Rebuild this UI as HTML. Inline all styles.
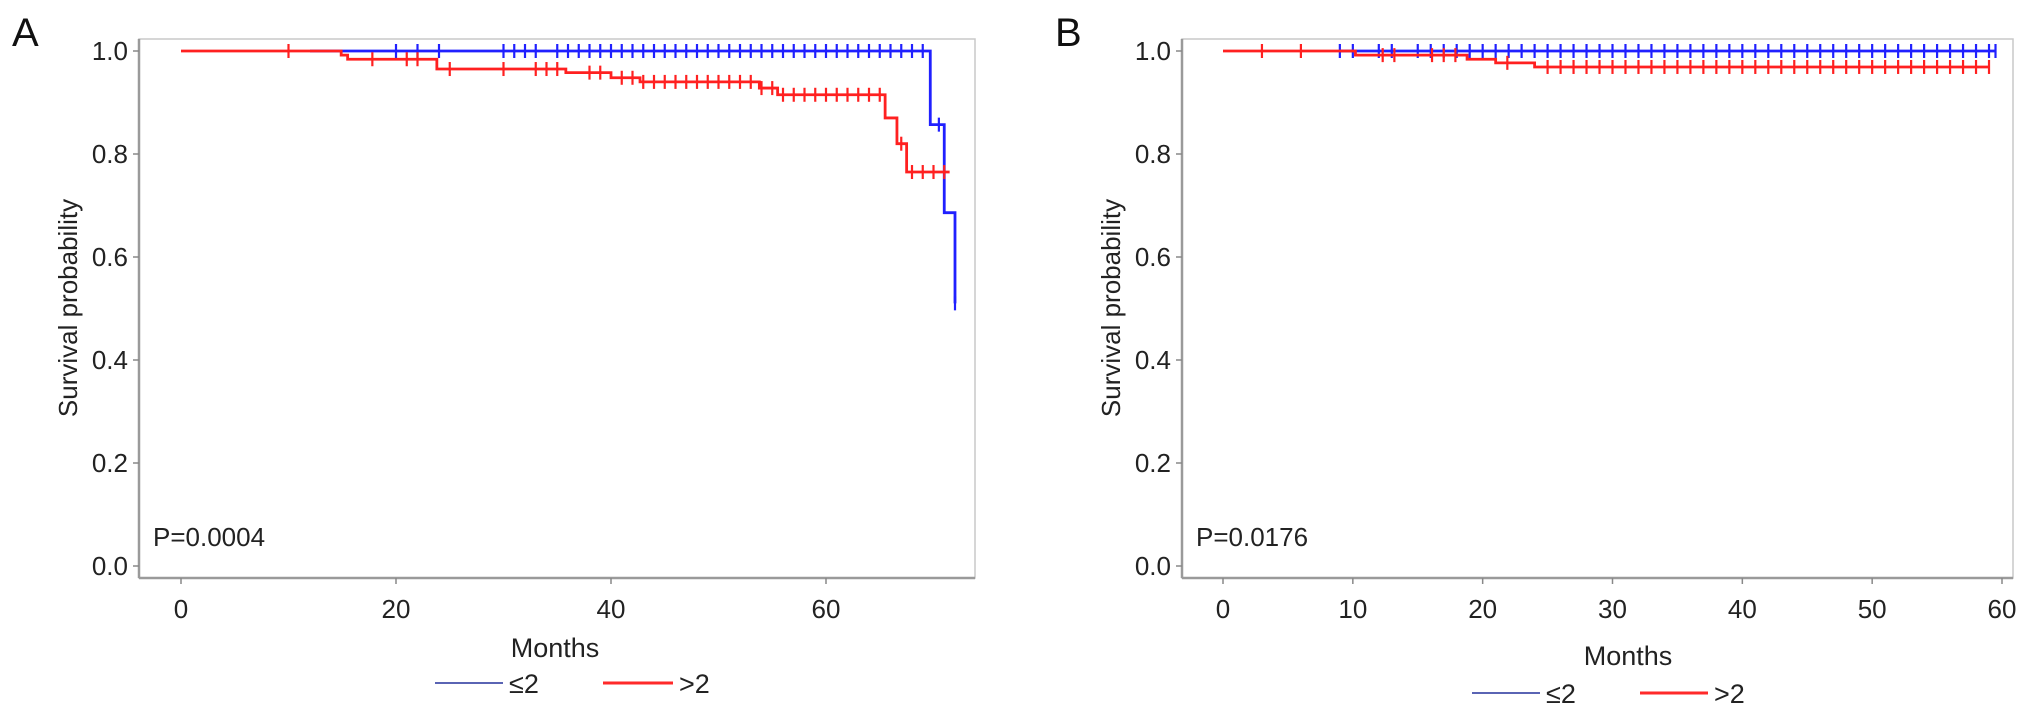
<!DOCTYPE html>
<html><head><meta charset="utf-8"><style>
html,body{margin:0;padding:0;background:#fff;}
svg{display:block;font-family:"Liberation Sans",sans-serif;}
</style></head><body>
<svg id="chart" width="2032" height="716" viewBox="0 0 2032 716"></svg>
<script>
// Panel A data
const aBlueTimes=[12,69.7,71,72];
const aBlueSurv=[1,0.857,0.686,0.51];
const aBlueEnd=72;
const aBlueCens=[20,22,24,30,31,32,33,35,36,37,38,39,40,41,42,43,44,45,46,47,48,49,50,51,52,53,54,55,56,57,58,59,60,61,62,63,64,65,66,67,68,69,70.5,72];
const aRedTimes=[0,14.9,15.5,23.8,35.8,40,42.7,53.8,55.5,65.5,66.6,67.5];
const aRedSurv=[1,0.992,0.984,0.965,0.958,0.948,0.94,0.928,0.915,0.87,0.82,0.765];
const aRedEnd=71.5;
const aRedCens=[10,17.8,21,22,25,30,33,34,35,38,39,41,42,43,44,45,46,47,48,49,50,51,52,53,54,55,56,57,58,59,60,61,62,63,64,65,67,68,69,70,71];
const aXTicks=[0,20,40,60];
// Panel B data
const bBlueTimes=[9];
const bBlueSurv=[1];
const bBlueEnd=59.5;
const bBlueCens=[9,10,12,13,15,16,17,18,19,20,21,22,23,24,25,26,27,28,29,30,31,32,33,34,35,36,37,38,39,40,41,42,43,44,45,46,47,48,49,50,51,52,53,54,55,56,57,58,59,59.5];
const bRedTimes=[0,10.2,18.8,21,24];
const bRedSurv=[1,0.992,0.984,0.977,0.969];
const bRedEnd=59;
const bRedCens=[3,6,12.3,13.2,16.1,17,17.9,21.9,25,26,27,28,29,30,31,32,33,34,35,36,37,38,39,40,41,42,43,44,45,46,47,48,49,50,51,52,53,54,55,56,57,58,59];
const bXTicks=[0,10,20,30,40,50,60];
const yTicks=[0,0.2,0.4,0.6,0.8,1.0];

const NS="http://www.w3.org/2000/svg";
const svg=document.getElementById('chart');
function el(tag,attrs,parent){const e=document.createElementNS(NS,tag);for(const k in attrs)e.setAttribute(k,attrs[k]);(parent||svg).appendChild(e);return e;}
const yTop=51,yBot=566;
function ys(v){return yBot-(yBot-yTop)*v;}

function panel(cfg){
  const g=el('g',{});
  
  
  const xs=v=>cfg.x0+(cfg.x1-cfg.x0)*v/cfg.xmax;
  const f=el('rect',{x:cfg.left,y:39,width:cfg.right-cfg.left,height:539,fill:'none',stroke:'#c8c8c8','stroke-width':1.5},g);
  
  const la=el('line',{x1:cfg.left,y1:39,x2:cfg.left,y2:578,stroke:'#9a9a9a','stroke-width':2.5},g);
  
  const ba=el('line',{x1:cfg.left,y1:578,x2:cfg.right,y2:578,stroke:'#9a9a9a','stroke-width':2.5},g);
  
  yTicks.forEach(v=>{
    el('line',{x1:cfg.left-6,y1:ys(v),x2:cfg.left,y2:ys(v),stroke:'#888','stroke-width':1.5},g);
    const t=el('text',{x:cfg.left-11,y:ys(v)+9,'text-anchor':'end','font-size':26,fill:'#222'},g);
    t.textContent=v.toFixed(1);
    
  });
  cfg.xticks.forEach(v=>{
    el('line',{x1:xs(v),y1:578,x2:xs(v),y2:584,stroke:'#888','stroke-width':1.5},g);
    const t=el('text',{x:xs(v),y:618,'text-anchor':'middle','font-size':26,fill:'#222'},g);
    t.textContent=v;
    
  });
  const yt=el('text',{x:0,y:0,'text-anchor':'middle','font-size':26,fill:'#222',transform:`translate(${cfg.left-62},308) rotate(-90)`},g);
  yt.textContent='Survival probability';
  
  const xt=el('text',{x:cfg.monthsX,y:cfg.monthsY,'text-anchor':'middle','font-size':27,fill:'#222'},g);
  xt.textContent='Months';
  
  const pv=el('text',{x:cfg.left+14,y:546,'font-size':26,fill:'#222'},g);
  pv.textContent=cfg.p;
  
  const lt=el('text',{x:cfg.letterX,y:46,'font-size':40,fill:'#111'},g);
  lt.textContent=cfg.letter;
  
  cfg.series.forEach(s=>{
    let d=`M${xs(s.times[0])},${ys(s.surv[0])}`;
    for(let i=1;i<s.times.length;i++){d+=` H${xs(s.times[i])} V${ys(s.surv[i])}`;}
    d+=` H${xs(s.end)}`;
    const p=el('path',{d:d,fill:'none',stroke:s.color,'stroke-width':2.8},g);
    
    s.cens.forEach(c=>{
      let v=s.surv[0];
      for(let i=0;i<s.times.length;i++){if(s.times[i]<=c)v=s.surv[i];}
      const m=el('line',{x1:xs(c),y1:ys(v)-7,x2:xs(c),y2:ys(v)+7,stroke:s.color,'stroke-width':2.2},g);
      
    });
  });
  cfg.legend.forEach(l=>{
    const ln=el('line',{x1:l.x1,y1:cfg.legY,x2:l.x2,y2:cfg.legY,stroke:l.color,'stroke-width':l.w},g);
    
    const t=el('text',{x:l.x2+6,y:cfg.legY+10,'font-size':27,fill:'#222'},g);
    t.textContent=l.label;
    
  });
}
panel({name:'panel-a',letter:'A',letterX:12,left:139,right:975,x0:181,x1:826,xmax:60,xticks:aXTicks,p:'P=0.0004',monthsX:555,monthsY:657,legY:683,
  series:[{name:'blue-le2',color:'#2020ff',times:aBlueTimes,surv:aBlueSurv,end:aBlueEnd,cens:aBlueCens},
          {name:'red-gt2',color:'#ff2020',times:aRedTimes,surv:aRedSurv,end:aRedEnd,cens:aRedCens}],
  legend:[{x1:435,x2:503,color:'#5a64b4',w:2,label:'≤2'},{x1:603,x2:673,color:'#ff2a2a',w:3,label:'>2'}]});
panel({name:'panel-b',letter:'B',letterX:1055,left:1182,right:2013,x0:1223,x1:2002,xmax:60,xticks:bXTicks,p:'P=0.0176',monthsX:1628,monthsY:665,legY:693,
  series:[{name:'blue-le2',color:'#2020ff',times:bBlueTimes,surv:bBlueSurv,end:bBlueEnd,cens:bBlueCens},
          {name:'red-gt2',color:'#ff2020',times:bRedTimes,surv:bRedSurv,end:bRedEnd,cens:bRedCens}],
  legend:[{x1:1472,x2:1540,color:'#5a64b4',w:2,label:'≤2'},{x1:1640,x2:1708,color:'#ff2a2a',w:3,label:'>2'}]});
</script>
</body></html>
